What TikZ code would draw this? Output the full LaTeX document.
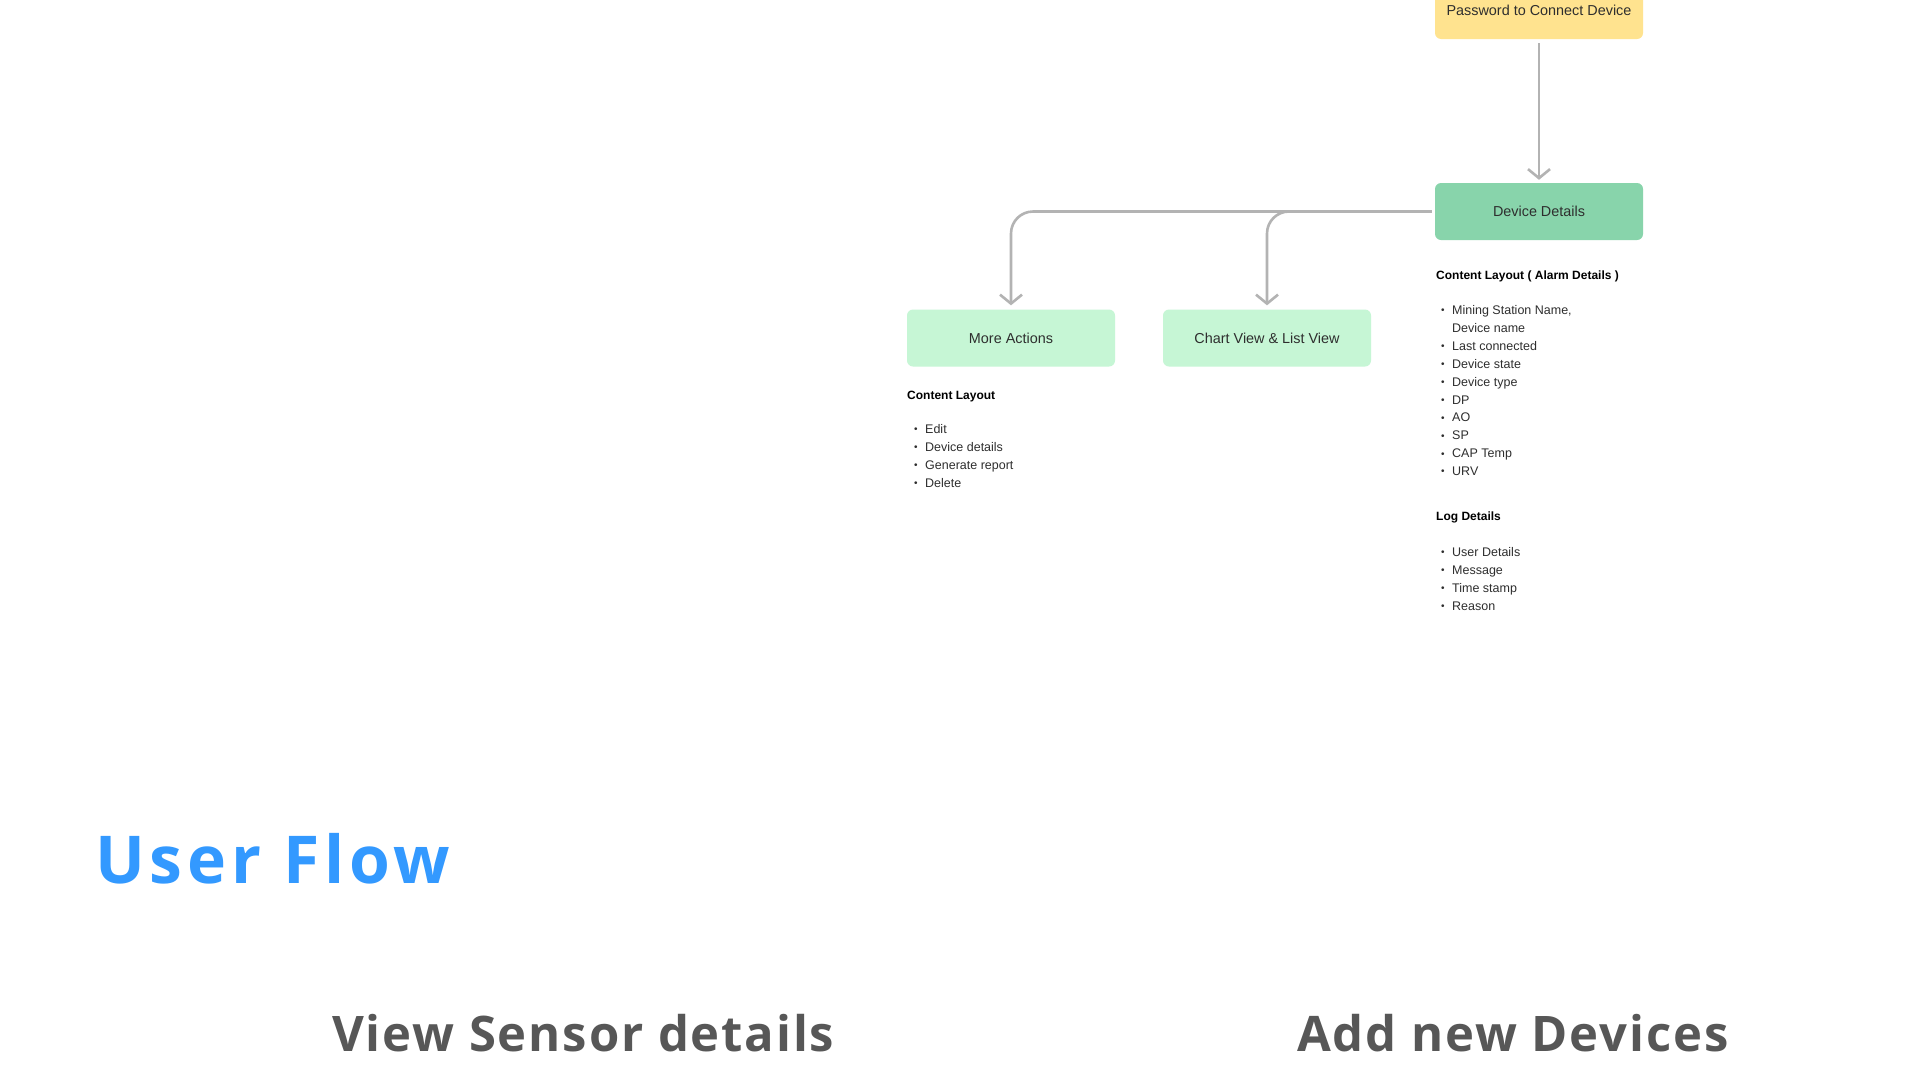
\documentclass[tikz,border=0pt]{standalone}
\usepackage{fontspec}
\setmainfont{Liberation Sans}
\newfontfamily\titlefont[LetterSpace=7.3]{Open Sans}
\newfontfamily\subfont[LetterSpace=3.8]{Open Sans}
\usetikzlibrary{arrows.meta}
\definecolor{yel}{HTML}{FFE38F}
\definecolor{dgreen}{HTML}{88D4AB}
\definecolor{lgreen}{HTML}{C6F6D5}
\definecolor{lgray}{HTML}{B3B3B3}
\definecolor{txt}{HTML}{2E2E2E}
\definecolor{ublue}{HTML}{3399FF}
\definecolor{tgray}{HTML}{575757}
\newcommand{\bul}{\hspace{2pt}\makebox[11pt][l]{\raisebox{0.1ex}{\scalebox{0.8}{•}}}}
\begin{document}
\begin{tikzpicture}[x=1pt,y=-1pt,
 box/.style={rounded corners=6pt, minimum width=208pt, minimum height=57pt, inner sep=0pt, font=\fontsize{14.4}{17}\selectfont, text=txt},
 conn/.style={draw=lgray, line width=2.6pt, -{Straight Barb[length=9pt,width=22pt,line width=2.6pt]}},
 head/.style={anchor=base west, font=\bfseries\fontsize{12}{14}\selectfont, text=black, inner sep=0pt},
 item/.style={anchor=base west, font=\fontsize{12.5}{15}\selectfont, text=txt, inner sep=0pt},
 bigtitle/.style={anchor=base west, inner sep=0pt, font=\titlefont\bfseries\fontsize{66}{70}\selectfont, text=ublue},
 subtitle/.style={anchor=base west, inner sep=0pt, font=\subfont\bfseries\fontsize{49}{52}\selectfont, text=tgray}
]
\useasboundingbox (0,0) rectangle (1920,1080);
\clip (0,0) rectangle (1920,1080);
\fill[white] (0,0) rectangle (1920,1080);

\node[box, fill=yel] (pw) at (1539,10.5) {Password to Connect Device};
\node[box, fill=dgreen] (dd) at (1539,211.5) {Device Details};
\node[box, fill=lgreen] (ma) at (1011,338) {More Actions};
\node[box, fill=lgreen] (cv) at (1267,338) {Chart View \& List View};

\draw[conn, shorten <=4pt, shorten >=3pt] (pw) -- (dd);
\draw[conn, rounded corners=22pt, shorten <=3pt, shorten >=4pt] (dd.west) -| (ma.north);
\draw[conn, rounded corners=22pt, shorten <=3pt, shorten >=4pt] (dd.west) -| (cv.north);

% left list
\node[head] (h1) at (907,399.5) {Content Layout};
\foreach \t [count=\i from 0] in {Edit, Device details, Generate report, Delete}
  \node[item] (la\i) at (912,433.5+18*\i) {\bul\t};

% right list
\node[head] (h2) at (1436,279) {Content Layout ( Alarm Details )};
\node[item] (rb0) at (1439,314.5) {\bul Mining Station Name,};
\node[item] (rb1) at (1439,332.4) {\hspace{13pt}Device name};
\foreach \t [count=\i from 2] in {Last connected, Device state, Device type, DP, AO, SP, CAP Temp, URV}
  \node[item] (rb\i) at (1439,314.5+17.9*\i) {\bul\t};

\node[head] (h3) at (1436,520) {Log Details};
\foreach \t [count=\i from 0] in {User Details, Message, Time stamp, Reason}
  \node[item] (lg\i) at (1439,556.5+18*\i) {\bul\t};

% titles
\node[bigtitle] (uf) at (95,883) {User Flow};
\node[subtitle] (vs) at (332,1051) {View Sensor details};
\node[subtitle] (an) at (1297,1051) {Add new Devices};
\end{tikzpicture}
\end{document}
